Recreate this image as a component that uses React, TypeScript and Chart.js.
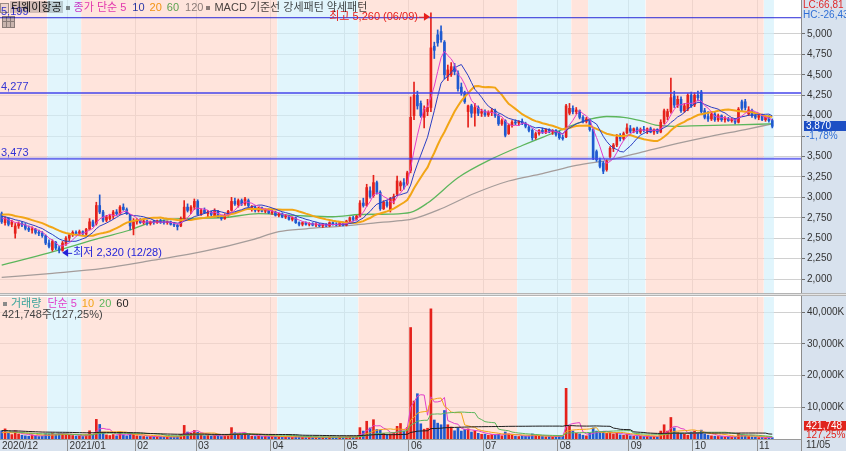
import React, { useEffect, useRef } from 'react';
import { Chart, registerables } from 'chart.js';

Chart.register(...registerables);

// ---------------- data ----------------
const stockName = '티웨이항공';
const lastDate = '11/05';
const highDate = '06/09';
const lowDate = '12/28';

const monthLabels = ['2020/12', '2021/01', '02', '03', '04', '05', '06', '07', '08', '09', '10', '11'];
const monthDays = [20, 20, 18, 22, 22, 19, 22, 22, 21, 19, 19, 5];
const futureSlots = 8;

const priceTicks = [2000, 2250, 2500, 2750, 3000, 3250, 3500, 3750, 4000, 4250, 4500, 4750, 5000];
const volumeTicks = [10000, 20000, 30000, 40000];
const levels = [5199, 4277, 3473];
// MACD pattern runs (bars), alternating starting with bullish (강세)
const patternRuns = [14, 10, 58, 24, 47, 16, 5, 17, 35, 3];

const opens = [
  2800, 2690, 2740, 2670, 2560, 2650, 2680, 2660, 2620, 2600, 2610, 2570, 2560, 2530, 2440, 2360, 2450, 2380, 2350, 2430,
  2500, 2540, 2570, 2560, 2580, 2550, 2610, 2700, 2680, 2900, 2820, 2720, 2740, 2770, 2820, 2800, 2880, 2850, 2780, 2620,
  2700, 2720, 2690, 2710, 2680, 2700, 2690, 2710, 2700, 2690, 2700, 2670, 2660, 2650, 2740, 2880, 2840, 2880,
  2950, 2790, 2840, 2800, 2820, 2770, 2830, 2750, 2740, 2780, 2840, 2950, 2910, 2960, 2920, 2960, 2860, 2880, 2840, 2870, 2830, 2850,
  2810, 2820, 2780, 2800, 2760, 2770, 2730, 2750, 2690, 2670, 2690, 2670, 2680, 2660, 2670, 2650, 2670, 2650, 2690, 2670, 2660, 2690,
  2660, 2710, 2750, 2730, 2770, 2930, 2900, 3080, 3020, 3180, 3060, 2860, 2940, 2850, 2960, 3040, 3140, 3180, 3170,
  3330, 4000, 4250, 4150, 3980, 4050, 4100, 4850, 4990, 5030, 4900, 4480, 4500, 4600, 4520, 4350, 4280, 4050, 4120, 4030, 4100, 4030,
  4050, 4010, 4040, 4060, 4000, 3900, 3940, 3780, 3880, 3920, 3910, 3930, 3900, 3860, 3820, 3730, 3780, 3820, 3800, 3830, 3800, 3820,
  3790, 3730, 3740, 4030, 4090, 4050, 4060, 3980, 3930, 3950, 3830, 3560, 3450, 3420, 3340, 3500, 3600, 3640, 3740, 3720, 3790,
  3840, 3810, 3840, 3800, 3830, 3810, 3840, 3800, 3830, 3800, 3920, 3990, 4050, 4240, 4130, 4200, 4060, 4080, 4250,
  4130, 4250, 4290, 4060, 3990, 3960, 4020, 3950, 4000, 3950, 3960, 3940, 3950, 3920, 4170, 4170, 4020, 4060, 4000,
  3980, 4000, 3950, 3980, 3940,
];
const highs = [
  2820, 2760, 2750, 2720, 2680, 2700, 2700, 2680, 2650, 2640, 2620, 2600, 2580, 2540, 2480, 2480, 2460, 2400, 2460, 2520,
  2560, 2590, 2590, 2600, 2590, 2620, 2740, 2720, 2940, 3030, 2840, 2780, 2790, 2840, 2850, 2900, 2920, 2870, 2790, 2740,
  2740, 2740, 2730, 2720, 2710, 2720, 2720, 2730, 2720, 2710, 2710, 2690, 2670, 2760, 2960, 2920, 2900, 2980,
  2970, 2860, 2870, 2840, 2830, 2860, 2840, 2780, 2800, 2840, 3000, 2990, 2980, 2980, 3000, 2980, 2900, 2890, 2880, 2880, 2860, 2860,
  2840, 2830, 2810, 2810, 2790, 2780, 2760, 2760, 2700, 2700, 2700, 2690, 2690, 2690, 2680, 2680, 2680, 2700, 2700, 2690, 2700, 2700,
  2720, 2760, 2770, 2780, 2960, 2990, 3160, 3130, 3270, 3200, 3080, 2960, 2960, 3000, 3040, 3260, 3200, 3230, 3320,
  4230, 4410, 4300, 4180, 4120, 4200, 5260, 4900, 5050, 5100, 4920, 4620, 4650, 4640, 4550, 4400, 4300, 4130, 4140, 4150, 4120, 4080,
  4070, 4060, 4090, 4080, 4020, 3960, 3950, 3900, 3940, 3950, 3940, 3960, 3920, 3880, 3840, 3800, 3830, 3850, 3840, 3840, 3830, 3830,
  3810, 3760, 4140, 4150, 4120, 4100, 4070, 4000, 3980, 3960, 3840, 3580, 3480, 3440, 3460, 3620, 3660, 3770, 3780, 3800, 3900,
  3880, 3850, 3860, 3850, 3870, 3850, 3860, 3840, 3840, 3950, 4080, 4080, 4460, 4300, 4240, 4230, 4150, 4270, 4290,
  4280, 4300, 4310, 4090, 4050, 4040, 4040, 4020, 4010, 3990, 3980, 3970, 3960, 4100, 4190, 4200, 4110, 4080, 4030,
  4020, 4020, 4000, 4000, 3960,
];
const lows = [
  2680, 2660, 2650, 2640, 2500, 2620, 2640, 2600, 2580, 2560, 2550, 2530, 2510, 2420, 2380, 2340, 2360, 2320, 2340, 2410,
  2470, 2520, 2540, 2540, 2540, 2530, 2600, 2640, 2660, 2800, 2700, 2700, 2720, 2740, 2780, 2790, 2840, 2790, 2600, 2540,
  2670, 2680, 2670, 2660, 2660, 2670, 2680, 2680, 2670, 2670, 2660, 2640, 2600, 2640, 2730, 2820, 2800, 2850,
  2780, 2780, 2800, 2760, 2770, 2760, 2750, 2720, 2730, 2770, 2830, 2900, 2880, 2900, 2900, 2880, 2830, 2820, 2820, 2820, 2810, 2800,
  2790, 2770, 2760, 2750, 2740, 2720, 2710, 2680, 2650, 2650, 2660, 2650, 2650, 2640, 2640, 2630, 2640, 2640, 2660, 2650, 2650, 2650,
  2650, 2700, 2710, 2720, 2760, 2880, 2890, 2990, 3000, 3040, 2840, 2850, 2880, 2820, 2920, 3020, 3080, 3100, 3150,
  3300, 3950, 4080, 3980, 3850, 4000, 4050, 4700, 4850, 4900, 4450, 4430, 4480, 4500, 4300, 4250, 4150, 3860, 3980, 3870, 4000, 3990,
  3990, 3990, 4000, 3980, 3880, 3880, 3740, 3770, 3860, 3890, 3880, 3890, 3850, 3800, 3700, 3710, 3760, 3780, 3780, 3790, 3770, 3750,
  3710, 3700, 3730, 4010, 4020, 4020, 3960, 3910, 3910, 3810, 3460, 3440, 3360, 3290, 3320, 3480, 3560, 3620, 3690, 3700, 3780,
  3790, 3790, 3780, 3780, 3800, 3780, 3790, 3770, 3780, 3790, 3900, 3950, 4030, 4100, 4100, 4040, 4040, 4060, 4100,
  4110, 4180, 4030, 3960, 3930, 3940, 3930, 3930, 3930, 3920, 3930, 3920, 3900, 3910, 4060, 4070, 4000, 3980, 3960,
  3950, 3940, 3930, 3920, 3850,
];
const closes = [
  2700, 2740, 2670, 2700, 2650, 2680, 2660, 2620, 2600, 2610, 2570, 2560, 2530, 2440, 2400, 2460, 2380, 2350, 2440, 2500,
  2540, 2570, 2550, 2580, 2560, 2610, 2700, 2650, 2900, 2820, 2720, 2760, 2770, 2820, 2800, 2880, 2850, 2800, 2650, 2700,
  2720, 2690, 2710, 2680, 2700, 2690, 2710, 2700, 2690, 2700, 2670, 2660, 2640, 2740, 2880, 2840, 2880, 2950,
  2790, 2840, 2810, 2820, 2790, 2830, 2760, 2740, 2780, 2830, 2950, 2920, 2960, 2920, 2980, 2900, 2880, 2840, 2870, 2830, 2850, 2810,
  2820, 2780, 2800, 2760, 2770, 2730, 2750, 2690, 2670, 2690, 2670, 2680, 2660, 2670, 2650, 2670, 2650, 2690, 2670, 2660, 2690, 2660,
  2710, 2750, 2730, 2770, 2930, 2900, 3120, 3010, 3180, 3060, 2860, 2940, 2900, 2980, 3010, 3200, 3180, 3150, 3300,
  3980, 4250, 4120, 4000, 4080, 4100, 4830, 4800, 4890, 4930, 4500, 4560, 4600, 4540, 4330, 4280, 4170, 4120, 4030, 4100, 4030, 4050,
  4010, 4040, 4060, 4000, 3900, 3940, 3760, 3880, 3920, 3910, 3930, 3900, 3870, 3820, 3730, 3780, 3820, 3800, 3830, 3800, 3820, 3770,
  3730, 3720, 4120, 4090, 4050, 4070, 3980, 3930, 3960, 3830, 3480, 3460, 3380, 3320, 3440, 3600, 3640, 3740, 3720, 3780, 3850,
  3810, 3840, 3800, 3830, 3820, 3840, 3800, 3830, 3800, 3920, 4060, 4050, 4220, 4130, 4200, 4060, 4120, 4250, 4120,
  4250, 4220, 4050, 3980, 3960, 4020, 3950, 4000, 3950, 3960, 3940, 3950, 3920, 4080, 4090, 4100, 4070, 4000, 3980,
  4000, 3950, 3980, 3940, 3870,
];
// closes of the 19 sessions before the first bar (needed for the 5/10/20 averages)
const priorCloses = [2650, 2720, 2800, 2870, 2850, 2820, 2790, 2850, 2880, 2830, 2800, 2770, 2820, 2790, 2760, 2780, 2740, 2770, 2740];

// volume in thousands of shares
const volumes = [
  2600, 3200, 1800, 1400, 2600, 1600, 1200, 1000, 900, 1300, 1000, 800, 900, 1700, 1600, 1900, 1400, 1800, 1700, 1500,
  1300, 1100, 900, 1000, 800, 1300, 2600, 1400, 6200, 4600, 2000, 1300, 1100, 1400, 1000, 1900, 1300, 1000, 2000, 1600,
  1000, 900, 800, 700, 800, 700, 800, 700, 600, 700, 600, 700, 900, 1400, 4300, 2200, 1800, 2700,
  2100, 1300, 1000, 1100, 900, 1400, 1000, 800, 1000, 1300, 3600, 2000, 1600, 1300, 1800, 1200, 900, 800, 900, 800, 900, 800,
  800, 700, 700, 600, 700, 600, 600, 800, 700, 600, 500, 600, 500, 600, 500, 600, 500, 700, 600, 500, 700, 600,
  700, 900, 700, 900, 3600, 2500, 5600, 3500, 6100, 3000, 2800, 1800, 1400, 1600, 2000, 4000, 4900, 2500, 3600,
  35200, 12000, 14300, 4800, 3100, 3400, 41100, 6000, 5000, 4500, 9000, 4500, 3800, 2600, 3500, 2500, 3000, 3200, 2200, 2600, 1800, 1500,
  1500, 1200, 1400, 1300, 1500, 1000, 2200, 1600, 1200, 900, 800, 900, 900, 1000, 1600, 1100, 900, 800, 700, 800, 700, 900,
  1000, 900, 16000, 4000, 2500, 1800, 1600, 1200, 1000, 1800, 3500, 2500, 2000, 2400, 1800, 2200, 1600, 1800, 1300, 1200, 1600,
  1000, 900, 800, 900, 800, 900, 800, 800, 700, 2500, 4500, 2500, 6800, 3500, 2000, 1800, 1500, 1200, 2200,
  2500, 1800, 2800, 1600, 1200, 1000, 900, 800, 800, 700, 700, 600, 600, 1800, 1400, 1100, 800, 700, 600,
  450, 500, 380, 331.43, 421.748,
];
const priorVolumes = [3200, 4800, 6200, 3800, 2900, 2600, 3100, 2300, 2100, 1900, 2600, 2100, 1900, 1600, 1700, 2300, 1900, 1600, 1500];

// 60- and 120-day averages: [bar index, value]
const ma60Samples = [
  [0, 2170], [14, 2320], [29, 2500], [38, 2600], [44, 2690], [53, 2740], [65, 2750], [76, 2800], [88, 2775], [98, 2762],
  [106, 2790], [115, 2795], [121, 2815], [126, 2930], [135, 3240], [145, 3470], [154, 3635], [164, 3800], [170, 3900],
  [174, 3955], [179, 3990], [184, 3980], [189, 3940], [194, 3880], [199, 3870], [204, 3875], [214, 3885], [224, 3895], [228, 3900],
];
const ma120Samples = [
  [0, 2020], [15, 2070], [30, 2130], [45, 2230], [60, 2340], [74, 2480], [82, 2580], [90, 2615], [100, 2645], [110, 2685],
  [118, 2715], [122, 2740], [130, 2860], [140, 3050], [150, 3200], [160, 3290], [170, 3390], [180, 3460], [190, 3560],
  [200, 3660], [210, 3750], [220, 3830], [228, 3900],
];
const maPeriods = [5, 10, 20];
const volMaPeriods = [5, 10, 20, 60];

// ---------------- styles ----------------
const FONT_FAMILY = "'Liberation Sans', 'Noto Sans CJK KR', sans-serif";
Chart.defaults.font.family = FONT_FAMILY;
const UP = '#e5211b';
const DOWN = '#1f5ad0';
const BULL_BG = 'rgba(255,213,201,0.65)';
const BEAR_BG = 'rgba(209,240,250,0.65)';
const GRID = '#d0d0d0';
const AXIS_BG = '#d8e2ee';
const W = 846;
const PRICE_H = 296;
const VOL_H = 155;
const PRICE_MIN = 1828.6;
const PRICE_MAX = 5416.3;
const VOL_MAX = 44840;
const MA_COLORS: Record<number, string> = { 5: '#e23fc9', 10: '#2a3fc4', 20: '#f2a516', 60: '#5cb65c', 120: '#a59c9a' };
const VOL_MA_COLORS: Record<number, string> = { 5: '#e23fc9', 10: '#f2a516', 20: '#5cb65c', 60: '#1e1e1e' };

// ---------------- helpers ----------------
const fmt = (v: number) => Math.round(v).toLocaleString('en-US');
const pct = (v: number) => v.toFixed(2).replace('.', ',');

function sma(values: number[], prior: number[], n: number) {
  const all = [...prior, ...values];
  const off = prior.length;
  return values.map((_, i) => {
    const end = off + i;
    const start = Math.max(0, end - n + 1);
    let s = 0;
    for (let k = start; k <= end; k++) s += all[k];
    return s / (end - start + 1);
  });
}

const N = closes.length;
const X_MIN = -0.5;
const X_MAX = N + futureSlots - 0.5;
const monthStarts: number[] = [];
monthDays.reduce((acc, d) => { monthStarts.push(acc); return acc + d; }, 0);
const candleColors = closes.map((c, i) => (c >= opens[i] ? UP : DOWN));

const hiVal = Math.max(...highs);
const hiIdx = highs.indexOf(hiVal);
const loVal = Math.min(...lows);
const loIdx = lows.indexOf(loVal);
const lastClose = closes[N - 1];
const prevClose = closes[N - 2];
const lastVol = volumes[N - 1];
const volPct = (lastVol / volumes[N - 2]) * 100;

function bandPoints(bull: boolean, top: number) {
  const pts: any[] = [];
  let start = 0;
  patternRuns.forEach((len, k) => {
    if ((k % 2 === 0) === bull) {
      pts.push({ x: start - 0.5, y: top }, { x: start + len - 0.5, y: top }, { x: start + len - 0.5, y: null });
    }
    start += len;
  });
  return pts;
}

const lineDs = (data: any[], color: string, width: number, order: number, extra: any = {}) => ({
  type: 'line', data, borderColor: color, borderWidth: width, pointRadius: 0, fill: false, order, tension: 0, ...extra,
});

const bandDs = (bull: boolean, top: number) => ({
  type: 'line', data: bandPoints(bull, top), fill: 'start', backgroundColor: bull ? BULL_BG : BEAR_BG,
  borderWidth: 0, pointRadius: 0, spanGaps: false, order: 100,
});

function monthAxis(showLabels: boolean) {
  return {
    type: 'linear', min: X_MIN, max: X_MAX, offset: false,
    afterBuildTicks: (axis: any) => { axis.ticks = monthStarts.map((s) => ({ value: s - 0.5 })); },
    afterFit: (axis: any) => { axis.height = showLabels ? 12 : 0; axis.paddingLeft = 0; axis.paddingRight = 0; },
    grid: {
      offset: false,
      color: (c: any) => (c.index === 0 ? 'rgba(0,0,0,0)' : GRID),
      lineWidth: 1, drawTicks: showLabels, tickLength: 12,
      tickColor: (c: any) => (c.index === 0 ? 'rgba(0,0,0,0)' : '#8f8f8f'),
    },
    border: { display: showLabels, color: '#9a9a9a' },
    ticks: {
      display: showLabels, autoSkip: false, maxRotation: 0, minRotation: 0, align: 'start',
      padding: -11, labelOffset: 2, color: '#333', font: { size: 10 },
      callback: (_v: any, i: number) => monthLabels[i] ?? '',
    },
  };
}

function valueAxis(min: number, max: number, ticks: number[], label: (v: number) => string) {
  return {
    type: 'linear', position: 'right', min, max,
    afterBuildTicks: (axis: any) => { axis.ticks = ticks.map((v) => ({ value: v })); },
    afterFit: (axis: any) => { axis.width = 45; axis.paddingTop = 0; axis.paddingBottom = 0; },
    grid: { color: GRID, tickLength: 4, tickColor: '#707070', drawTicks: true },
    border: { display: true, color: '#8c8c8c' },
    ticks: { padding: 2, color: '#333', font: { size: 10 }, autoSkip: false, callback: (v: any) => label(Number(v)) },
  };
}

// ---------------- plugins ----------------
const pricePlugin = {
  id: 'priceDecor',
  beforeDraw(chart: any) {
    const { ctx, chartArea: a, width, height } = chart;
    ctx.save();
    ctx.fillStyle = '#ffffff';
    ctx.fillRect(0, 0, width, height);
    ctx.fillStyle = AXIS_BG;
    ctx.fillRect(a.right, 0, width - a.right, height);
    ctx.restore();
  },
  afterDraw(chart: any) {
    const { ctx, chartArea: a, width } = chart;
    const xs = chart.scales.x;
    const ys = chart.scales.y;
    ctx.save();
    ctx.lineWidth = 1;
    ctx.strokeStyle = '#8c8c8c';
    ctx.beginPath(); ctx.moveTo(a.right + 0.5, 0); ctx.lineTo(a.right + 0.5, a.bottom); ctx.stroke();
    // panel separator
    ctx.fillStyle = '#e4e4e4';
    ctx.fillRect(0, a.bottom, width, 3);
    ctx.strokeStyle = '#b4b4b4';
    ctx.beginPath(); ctx.moveTo(0, a.bottom + 0.5); ctx.lineTo(width, a.bottom + 0.5); ctx.stroke();
    ctx.beginPath(); ctx.moveTo(0, a.bottom + 2.5); ctx.lineTo(width, a.bottom + 2.5); ctx.stroke();

    ctx.font = `11px ${FONT_FAMILY}`;
    ctx.textAlign = 'left';
    ctx.textBaseline = 'alphabetic';
    ctx.fillStyle = '#3434d4';
    levels.forEach((v) => ctx.fillText(fmt(v), 1, ys.getPixelForValue(v) - 3));

    // highest
    const hx = xs.getPixelForValue(hiIdx);
    const hy = ys.getPixelForValue(hiVal) + 4;
    ctx.fillStyle = '#e8201c';
    ctx.strokeStyle = '#e8201c';
    ctx.beginPath(); ctx.moveTo(hx - 12, hy + 0.5); ctx.lineTo(hx - 5, hy + 0.5); ctx.stroke();
    ctx.beginPath(); ctx.moveTo(hx - 1, hy); ctx.lineTo(hx - 7, hy - 4); ctx.lineTo(hx - 7, hy + 4); ctx.closePath(); ctx.fill();
    ctx.textAlign = 'right';
    ctx.textBaseline = 'middle';
    ctx.fillText(`최고 ${fmt(hiVal)} (${highDate})`, hx - 13, hy);

    // lowest
    const lx = xs.getPixelForValue(loIdx);
    const ly = ys.getPixelForValue(loVal);
    ctx.fillStyle = '#2323d8';
    ctx.strokeStyle = '#2323d8';
    ctx.beginPath(); ctx.moveTo(lx + 3, ly); ctx.lineTo(lx + 9, ly - 4); ctx.lineTo(lx + 9, ly + 4); ctx.closePath(); ctx.fill();
    ctx.beginPath(); ctx.moveTo(lx + 8, ly + 0.5); ctx.lineTo(lx + 13, ly + 0.5); ctx.stroke();
    ctx.textAlign = 'left';
    ctx.fillText(`최저 ${fmt(loVal)} (${lowDate})`, lx + 14, ly);

    // right axis extras
    ctx.font = `10px ${FONT_FAMILY}`;
    ctx.textBaseline = 'top';
    ctx.fillStyle = AXIS_BG;
    ctx.fillRect(a.right + 1, 0, width - a.right - 1, 21);
    ctx.fillStyle = '#e02828';
    ctx.fillText(`LC:${pct((lastClose / loVal - 1) * 100)}`, a.right + 2, 0);
    ctx.fillStyle = '#2f6fd6';
    ctx.fillText(`HC:${pct((lastClose / hiVal - 1) * 100)}`, a.right + 2, 10);

    const cy = Math.round(ys.getPixelForValue(lastClose));
    ctx.fillStyle = AXIS_BG;
    ctx.fillRect(a.right + 5, cy + 5, width - a.right - 5, 11);
    ctx.fillStyle = '#1d4fc4';
    ctx.fillRect(a.right + 3, cy - 5, width - a.right - 3, 10);
    ctx.fillStyle = '#ffffff';
    ctx.textBaseline = 'middle';
    ctx.fillText(fmt(lastClose), a.right + 5, cy);
    ctx.fillStyle = '#2f6fd6';
    ctx.fillText(`${pct(((lastClose - prevClose) / prevClose) * 100)}%`, a.right + 5, cy + 10);
    ctx.restore();
  },
};

const volPlugin = {
  id: 'volDecor',
  beforeDraw(chart: any) {
    const { ctx, chartArea: a, width, height } = chart;
    ctx.save();
    ctx.fillStyle = '#ffffff';
    ctx.fillRect(0, 0, width, height);
    ctx.fillStyle = AXIS_BG;
    ctx.fillRect(a.right, 0, width - a.right, height);
    ctx.fillRect(0, a.bottom, width, height - a.bottom);
    ctx.restore();
  },
  afterDraw(chart: any) {
    const { ctx, chartArea: a, width } = chart;
    ctx.save();
    ctx.lineWidth = 1;
    ctx.strokeStyle = '#8c8c8c';
    ctx.beginPath(); ctx.moveTo(a.right + 0.5, 0); ctx.lineTo(a.right + 0.5, chart.height); ctx.stroke();
    ctx.font = `10px ${FONT_FAMILY}`;
    ctx.textAlign = 'left';
    ctx.textBaseline = 'middle';
    const top = a.bottom - 18;
    ctx.fillStyle = '#e0241c';
    ctx.fillRect(a.right + 3, top, width - a.right - 3, 9.5);
    ctx.fillStyle = '#ffffff';
    ctx.fillText(fmt(lastVol * 1000), a.right + 5, top + 5);
    ctx.fillStyle = '#e0241c';
    ctx.fillText(`${pct(volPct)}%`, a.right + 5, top + 14);
    ctx.fillStyle = '#333';
    ctx.textBaseline = 'top';
    ctx.fillText(lastDate, a.right + 5, a.bottom + 1);
    ctx.restore();
  },
};

// ---------------- configs ----------------
function priceConfig(): any {
  const idx = closes.map((_, i) => i);
  const maLines = maPeriods.map((p) => sma(closes, priorCloses, p));
  return {
    type: 'bar',
    data: {
      datasets: [
        bandDs(true, PRICE_MAX),
        bandDs(false, PRICE_MAX),
        lineDs(ma120Samples.map(([x, y]) => ({ x, y })), MA_COLORS[120], 1.3, 60, { cubicInterpolationMode: 'monotone' }),
        lineDs(ma60Samples.map(([x, y]) => ({ x, y })), MA_COLORS[60], 1.3, 59, { cubicInterpolationMode: 'monotone' }),
        {
          type: 'bar', data: idx.map((i) => ({ x: i, y: [lows[i], highs[i]] })), backgroundColor: candleColors,
          barThickness: 1, grouped: false, order: 50, borderWidth: 0,
        },
        {
          type: 'bar', data: idx.map((i) => ({ x: i, y: [opens[i], closes[i]] })), backgroundColor: candleColors,
          barThickness: 2, minBarLength: 1, grouped: false, order: 49, borderWidth: 0,
        },
        lineDs(idx.map((i) => ({ x: i, y: maLines[2][i] })), MA_COLORS[20], 2, 30),
        lineDs(idx.map((i) => ({ x: i, y: maLines[1][i] })), MA_COLORS[10], 1, 29),
        lineDs(idx.map((i) => ({ x: i, y: maLines[0][i] })), MA_COLORS[5], 1, 28),
        ...levels.map((v, k) =>
          lineDs([{ x: X_MIN, y: v }, { x: X_MAX, y: v }], k === 0 ? '#2828d8' : 'rgba(70,70,235,0.75)', k === 0 ? 1 : 2, 5)),
      ],
    },
    options: {
      responsive: false, animation: false, devicePixelRatio: 1, events: [],
      layout: { padding: { left: 0, right: 0, top: 0, bottom: 3 } },
      plugins: { legend: { display: false }, tooltip: { enabled: false } },
      scales: {
        x: monthAxis(false),
        y: valueAxis(PRICE_MIN, PRICE_MAX, priceTicks, (v) => fmt(v)),
      },
    },
    plugins: [pricePlugin],
  };
}

function volumeConfig(): any {
  const idx = volumes.map((_, i) => i);
  const vm = volMaPeriods.map((p) => sma(volumes, priorVolumes, p));
  return {
    type: 'bar',
    data: {
      datasets: [
        bandDs(true, VOL_MAX),
        bandDs(false, VOL_MAX),
        {
          type: 'bar', data: idx.map((i) => ({ x: i, y: volumes[i] })), backgroundColor: candleColors,
          barThickness: 2, grouped: false, order: 50, borderWidth: 0,
        },
        ...volMaPeriods.map((p, k) =>
          lineDs(idx.map((i) => ({ x: i, y: vm[k][i] })), VOL_MA_COLORS[p], 1, 40 - k)),
      ],
    },
    options: {
      responsive: false, animation: false, devicePixelRatio: 1, events: [],
      layout: { padding: { left: 0, right: 0, top: 1, bottom: 0 } },
      plugins: { legend: { display: false }, tooltip: { enabled: false } },
      scales: {
        x: monthAxis(true),
        y: valueAxis(0, VOL_MAX, volumeTicks, (v) => `${fmt(v)}K`),
      },
    },
    plugins: [volPlugin],
  };
}

// ---------------- components ----------------
const legendFont = `11px ${FONT_FAMILY}`;

function Sq() {
  return (
    <span style={{ display: 'inline-block', width: 4, height: 4, background: '#8a8a8a', margin: '0 4px 0 3px', verticalAlign: 'middle' }} />
  );
}

function TopLegend() {
  return (
    <div style={{ position: 'absolute', left: 0, top: 1, font: legendFont, lineHeight: '12px', whiteSpace: 'nowrap', color: '#4a4a4a', mixBlendMode: 'multiply' }}>
      <span style={{ display: 'inline-block', width: 7, height: 8, border: '1px solid #9a9a9a', background: '#eeeeee', marginRight: 1, verticalAlign: 'middle' }} />
      <span style={{ background: '#d3d3d3', color: '#111', padding: '0 1px' }}>{stockName}</span>
      <Sq />
      <span style={{ color: MA_COLORS[5] }}>종가 단순 5</span>
      <span style={{ color: MA_COLORS[10], marginLeft: 6 }}>10</span>
      <span style={{ color: MA_COLORS[20], marginLeft: 5 }}>20</span>
      <span style={{ color: MA_COLORS[60], marginLeft: 5 }}>60</span>
      <span style={{ color: '#8c8c8c', marginLeft: 6 }}>120</span>
      <Sq />
      <span>MACD 기준선 강세패턴 약세패턴</span>
    </div>
  );
}

function ToolIcon() {
  return (
    <div style={{ position: 'absolute', left: 2, top: 16, width: 11, height: 10, border: '1px solid #8a8a8a', background: '#c9c9c9', mixBlendMode: 'multiply' }}>
      <div style={{ position: 'absolute', left: 3, top: 0, width: 1, height: 10, background: '#8a8a8a' }} />
      <div style={{ position: 'absolute', left: 7, top: 0, width: 1, height: 10, background: '#8a8a8a' }} />
      <div style={{ position: 'absolute', left: 0, top: 4, width: 11, height: 1, background: '#8a8a8a' }} />
    </div>
  );
}

function VolLegend() {
  return (
    <div style={{ position: 'absolute', left: 0, top: 298, font: legendFont, lineHeight: '11px', whiteSpace: 'nowrap' }}>
      <div>
        <Sq />
        <span style={{ color: '#39a39a' }}>거래량</span>
        <span style={{ color: VOL_MA_COLORS[5], marginLeft: 6 }}>단순 5</span>
        <span style={{ color: VOL_MA_COLORS[10], marginLeft: 5 }}>10</span>
        <span style={{ color: VOL_MA_COLORS[20], marginLeft: 5 }}>20</span>
        <span style={{ color: VOL_MA_COLORS[60], marginLeft: 5 }}>60</span>
      </div>
      <div style={{ color: '#444', marginLeft: 2 }}>{`${fmt(lastVol * 1000)}주(${pct(volPct)}%)`}</div>
    </div>
  );
}

export default function App() {
  const priceRef = useRef<HTMLCanvasElement>(null);
  const volRef = useRef<HTMLCanvasElement>(null);
  useEffect(() => {
    const pc = new Chart(priceRef.current as HTMLCanvasElement, priceConfig());
    const vc = new Chart(volRef.current as HTMLCanvasElement, volumeConfig());
    return () => { pc.destroy(); vc.destroy(); };
  }, []);
  return (
    <div style={{ position: 'absolute', left: 0, top: 0, width: W, height: PRICE_H + VOL_H, overflow: 'hidden', background: '#fff', isolation: 'isolate' }}>
      <canvas ref={priceRef} width={W} height={PRICE_H} style={{ position: 'absolute', left: 0, top: 0 }} />
      <canvas ref={volRef} width={W} height={VOL_H} style={{ position: 'absolute', left: 0, top: PRICE_H }} />
      <TopLegend />
      <ToolIcon />
      <VolLegend />
    </div>
  );
}
